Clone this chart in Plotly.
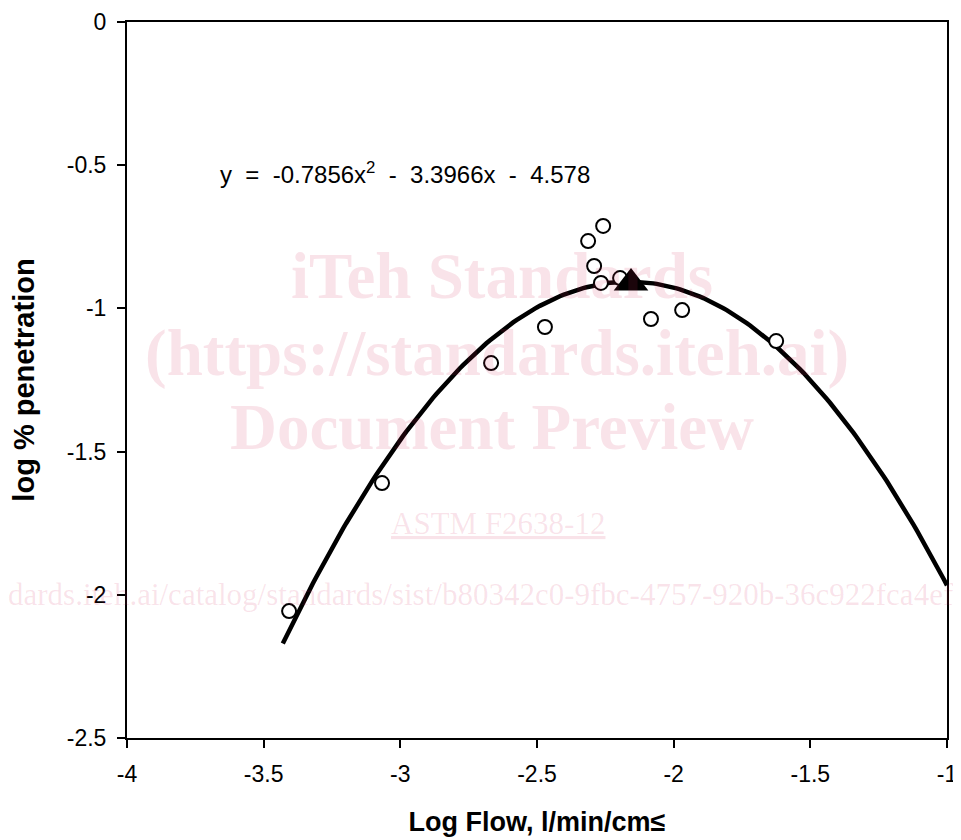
import numpy as np
import plotly.graph_objects as go

# ---- data ----
obs_log_flow = [-3.407, -3.067, -2.668, -2.471, -2.313, -2.258, -2.291, -2.266, -2.196, -2.083, -1.969, -1.625]
obs_log_pen = [-2.057, -1.610, -1.191, -1.065, -0.765, -0.712, -0.852, -0.911, -0.894, -1.037, -1.006, -1.114]

peak_log_flow = [-2.156]
peak_log_pen = [-0.911]

# quadratic trendline shown in the chart: y = a x^2 + b x + c
fit_a, fit_b, fit_c = -0.7856, -3.3966, -4.578
fit_x_start, fit_x_end = -3.43, -1.0

x_ticks = [-4, -3.5, -3, -2.5, -2, -1.5, -1]
y_ticks = [0, -0.5, -1, -1.5, -2, -2.5]

fit_x = np.linspace(fit_x_start, fit_x_end, 200)
fit_y = fit_a * fit_x**2 + fit_b * fit_x + fit_c

fig = go.Figure()
fig.add_trace(go.Scatter(x=fit_x, y=fit_y, mode="lines",
                         line=dict(color="black", width=4.5), showlegend=False, hoverinfo="skip"))
fig.add_trace(go.Scatter(x=obs_log_flow, y=obs_log_pen, mode="markers",
                         marker=dict(symbol="circle", size=14, color="white",
                                     line=dict(color="black", width=2)),
                         showlegend=False))
fig.add_trace(go.Scatter(x=peak_log_flow, y=peak_log_pen, mode="markers",
                         marker=dict(symbol="triangle-up", size=30, color="black",
                                     line=dict(color="black", width=0)),
                         showlegend=False))

tick_font = dict(family="Liberation Sans, Arial, sans-serif", size=23, color="black")

fig.update_xaxes(range=[-4, -1], tickvals=x_ticks, ticktext=[f"{v:g}" for v in x_ticks],
                 showgrid=False, zeroline=False, showline=True, linecolor="black", linewidth=2,
                 mirror=True, ticks="outside", ticklen=8, tickwidth=2, tickcolor="black",
                 tickfont=tick_font, ticklabelstandoff=6, automargin=False,
                 title=dict(text="<b>Log Flow, l/min/cm≤</b>",
                            font=dict(family="Liberation Sans, Arial, sans-serif", size=27, color="black"),
                            standoff=27))
fig.update_yaxes(range=[-2.5, 0], tickvals=y_ticks, ticktext=[f"{v:g}" for v in y_ticks],
                 showgrid=False, zeroline=False, showline=True, linecolor="black", linewidth=2,
                 mirror=True, ticks="outside", ticklen=8, tickwidth=2, tickcolor="black",
                 tickfont=tick_font, ticklabelstandoff=6, automargin=False,
                 title=dict(text="<b>log % penetration</b>",
                            font=dict(family="Liberation Sans, Arial, sans-serif", size=29, color="black"),
                            standoff=24))

wm_color = "rgba(208,35,88,0.13)"
wm_font = "Liberation Serif, Times New Roman, serif"
sp = "\u00a0 "
eq_text = f"y{sp}={sp}-0.7856x<sup>2</sup>{sp}-{sp}3.3966x{sp}-{sp}4.578"
annotations = [
    dict(text=eq_text, xref="paper", yref="paper",
         x=0.111, y=0.789, xanchor="left", yanchor="middle", showarrow=False,
         font=dict(family="Liberation Sans, Arial, sans-serif", size=24, color="black")),
    dict(text="<b>iTeh Standards</b>", x=0.457, y=0.645),
    dict(text="<b>(https://standards.iteh.ai)</b>", x=0.451, y=0.538),
    dict(text="<b>Document Preview</b>", x=0.445, y=0.435),
]
for a in annotations[1:]:
    a.update(xref="paper", yref="paper", xanchor="center", yanchor="middle", showarrow=False,
             font=dict(family=wm_font, size=65, color=wm_color))
annotations.append(dict(text="<span style='text-decoration:underline'>ASTM F2638-12</span>",
                        xref="paper", yref="paper", x=0.453, y=0.30, xanchor="center",
                        yanchor="middle", showarrow=False,
                        font=dict(family=wm_font, size=31, color=wm_color)))
annotations.append(dict(text="dards.iteh.ai/catalog/standards/sist/b80342c0-9fbc-4757-920b-36c922fca4ef/a",
                        xref="paper", yref="paper", x=-0.147, y=0.2, xanchor="left",
                        yanchor="middle", showarrow=False,
                        font=dict(family=wm_font, size=31, color=wm_color)))

# the page body adds an 8 px offset, so the figure is 8 px smaller and shifted
fig.update_layout(width=953, height=832, margin=dict(l=119, r=14, t=14, b=102),
                  plot_bgcolor="white", paper_bgcolor="white", annotations=annotations)

fig.write_html("out.html")
